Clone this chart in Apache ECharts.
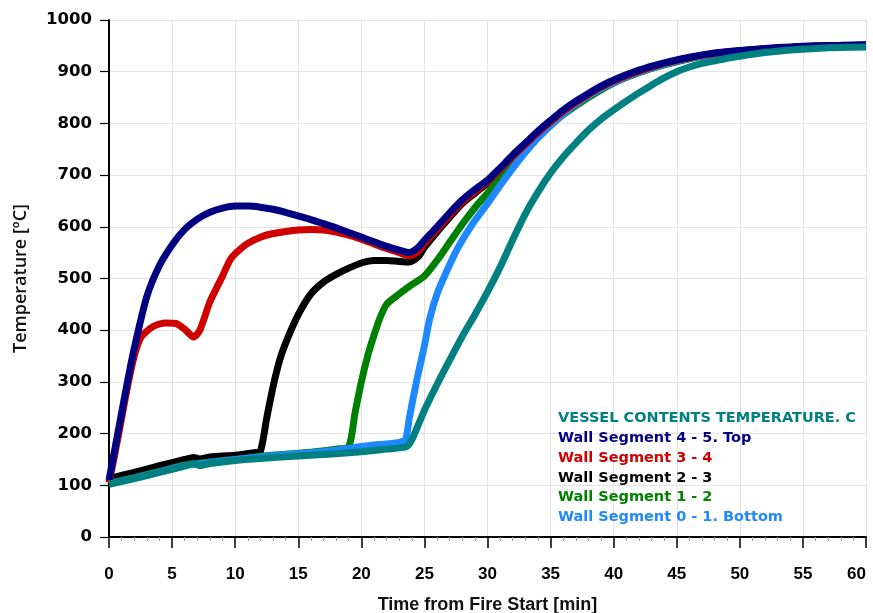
<!DOCTYPE html>
<html><head><meta charset="utf-8">
<script src="https://cdn.jsdelivr.net/npm/echarts@6/dist/echarts.min.js"></script>
<style>html,body{margin:0;padding:0;background:#fff}#c{width:873px;height:613px}</style>
</head><body><div id="c"></div>
<script>
// ---- data ----
const xTicks = [0,5,10,15,20,25,30,35,40,45,50,55,60];
const yTicks = [0,100,200,300,400,500,600,700,800,900,1000];

const seriesNames = [
  'VESSEL CONTENTS TEMPERATURE. C',
  'Wall Segment 4 - 5. Top',
  'Wall Segment 3 - 4',
  'Wall Segment 2 - 3',
  'Wall Segment 1 - 2',
  'Wall Segment 0 - 1. Bottom'
];

// Vessel contents (teal)
const tVessel = [0,2,4,6,6.7,7.2,8,10,12,14,16,18,20,22,23.6,24,25,26,27,28,29,30,31,32,33,34,35,36,37,38,39,40,41,42,43,44,45,46,47,48,49,50,52,54,56,58,60];
const vVessel = [102,113,125,137,142,138,142,148,152,155,158,161,165,170,175,188,245,295,342,388,430,474,522,575,625,667,704,735,762,787,808,826,843,859,874,888,900,909,916,921,926,930,937,942,945,947,948];

// Wall segment 4-5 top (navy)
const tSeg45 = [0,0.5,1,1.5,2,3,4,5,6,7,8,9,10,11,12,13,14,15,16,17,18,19,20,21,22,23,23.8,24.5,25,26,27,28,29,30,31,32,33,34,35,36,37,38,39,40,42,44,46,48,50,52,54,56,58,60];
const vSeg45 = [110,175,240,305,365,465,525,565,595,615,628,636,640,640,638,634,628,621,614,606,598,589,580,571,562,555,550,560,574,600,627,652,672,690,714,739,762,785,806,826,843,858,872,884,903,917,928,936,941,945,948,950,951,952];

// Wall segment 3-4 (red)
const tSeg34 = [0,0.5,1,1.5,2,2.5,3,3.5,4,4.5,5.3,6,6.7,7.2,8,9,9.6,10,11,12,13,14,15,16,17,18,19,20,21,22,23,23.8,24.5,25,26,27,28,29,30,31,32,33,34,35,36,37,38,39,40,42,44,46,48,50,52,54,56,58,60];
const vSeg34 = [105,165,230,295,350,385,398,407,412,414,413,402,387,400,455,505,536,548,568,580,587,591,594,595,594,590,584,576,567,558,550,544,552,568,595,622,648,668,687,711,736,759,782,803,823,840,856,870,882,901,916,927,935,940,944,947,949,950,951];

// Wall segment 2-3 (black)
const tSeg23 = [0,2,4,6,6.7,7.2,8,10,11.5,12,12.5,13,13.5,14,15,16,17,18,19,20,21,22,23,23.8,24.5,25,26,27,28,29,30,31,32,33,34,35,36,38,40,42,44,46,48,50,52,54,56,58,60];
const vSeg23 = [113,125,138,150,154,151,155,158,163,166,230,290,340,375,430,470,493,508,520,530,535,535,533,532,542,560,590,618,645,665,685,710,734,757,780,801,821,853,880,899,914,926,935,940,944,947,949,950,951];

// Wall segment 1-2 (green)
const tSeg12 = [0,2,4,6,8,10,12,14,16,18,19,19.5,20,20.5,21,21.5,22,23,24,25,26,27,28,29,30,31,32,33,34,35,36,38,40,42,44,46,48,50,52,54,56,58,60];
const vSeg12 = [104,115,127,139,145,150,156,160,164,170,175,240,300,350,390,425,450,470,488,505,535,570,605,637,665,695,722,748,772,796,817,850,878,898,913,925,934,940,944,947,949,950,951];

// Wall segment 0-1 bottom (light blue)
const tSeg01 = [0,2,4,6,8,10,12,14,16,18,20,21,22,23,23.5,23.8,24.4,25,25.4,26,26.8,27.5,28.1,29,30,31,32,33,34,35,36,37,38,39,40,42,44,46,48,50,52,54,56,58,60];
const vSeg01 = [103,114,126,138,144,150,155,159,163,168,175,178,180,183,188,230,304,370,420,470,516,552,578,612,645,680,713,744,772,796,818,837,853,867,879,899,914,926,934,940,944,947,949,950,951];

const colors = ['#008080','#000080','#d00000','#000000','#008000','#1e88ff'];

function pairs(t, v){ return t.map((x,i)=>[x, v[i]]); }
const dataSets = [
  pairs(tVessel, vVessel),
  pairs(tSeg45, vSeg45),
  pairs(tSeg34, vSeg34),
  pairs(tSeg23, vSeg23),
  pairs(tSeg12, vSeg12),
  pairs(tSeg01, vSeg01)
];
// draw order (bottom to top)
const drawOrder = [3,4,5,2,1,0];
const zMap = {}; drawOrder.forEach((idx,k)=>zMap[idx]=k+2);

const chart = echarts.init(document.getElementById('c'));
chart.setOption({
  animation:false,
  backgroundColor:'#fff',
  grid:{left:109, right:7, top:20, bottom:76, containLabel:false, outerBoundsMode:'none'},
  legend:{
    orient:'vertical', left:548, top:406, icon:'none', itemWidth:0, itemHeight:14, itemGap:4.8,
    selectedMode:false, padding:[5,5,5,5],
    textStyle:{fontFamily:'DejaVu Sans', fontWeight:'bold', fontSize:14.5, lineHeight:14},
    data: seriesNames.map((n,i)=>({name:n, textStyle:{color:colors[i]}}))
  },
  xAxis:{
    type:'value', min:0, max:60, interval:5,
    name:'Time from Fire Start [min]', nameLocation:'middle', nameGap:59,
    nameTextStyle:{fontFamily:'Liberation Sans', fontWeight:'bold', fontSize:18, color:'#111'},
    axisLine:{lineStyle:{color:'#000', width:2}, onZero:false},
    axisTick:{show:true, length:11, lineStyle:{color:'#000', width:1.5}},
    minorTick:{show:true, splitNumber:5, length:4, lineStyle:{color:'#999'}},
    axisLabel:{fontFamily:'Liberation Sans', fontWeight:'bold', fontSize:17, color:'#000', margin:29,
      alignMaxLabel:'right',
      formatter:(v)=> xTicks.includes(v)? String(v):''},
    splitLine:{show:true, lineStyle:{color:'#e3e3e3', width:1}}
  },
  yAxis:{
    type:'value', min:0, max:1000, interval:100,
    name:'Temperature [ºC]', nameLocation:'middle', nameGap:79,
    nameTextStyle:{fontFamily:'Open Sans', fontWeight:600, fontSize:18, color:'#111'},
    axisLine:{show:true, lineStyle:{color:'#000', width:2}},
    axisTick:{show:true, length:9, lineStyle:{color:'#000', width:1.2}},
    minorTick:{show:false},
    axisLabel:{fontFamily:'DejaVu Sans', fontWeight:'bold', fontSize:16.5, color:'#000', margin:17,
      formatter:(v)=> yTicks.includes(v)? String(v):''},
    splitLine:{show:true, lineStyle:{color:'#e3e3e3', width:1}}
  },
  series: seriesNames.map((n,i)=>({
    name:n, type:'line', data:dataSets[i], showSymbol:false, smooth:0.25,
    z:zMap[i], color:colors[i],
    lineStyle:{width:7, color:colors[i]}
  }))
});
</script>
</body></html>
